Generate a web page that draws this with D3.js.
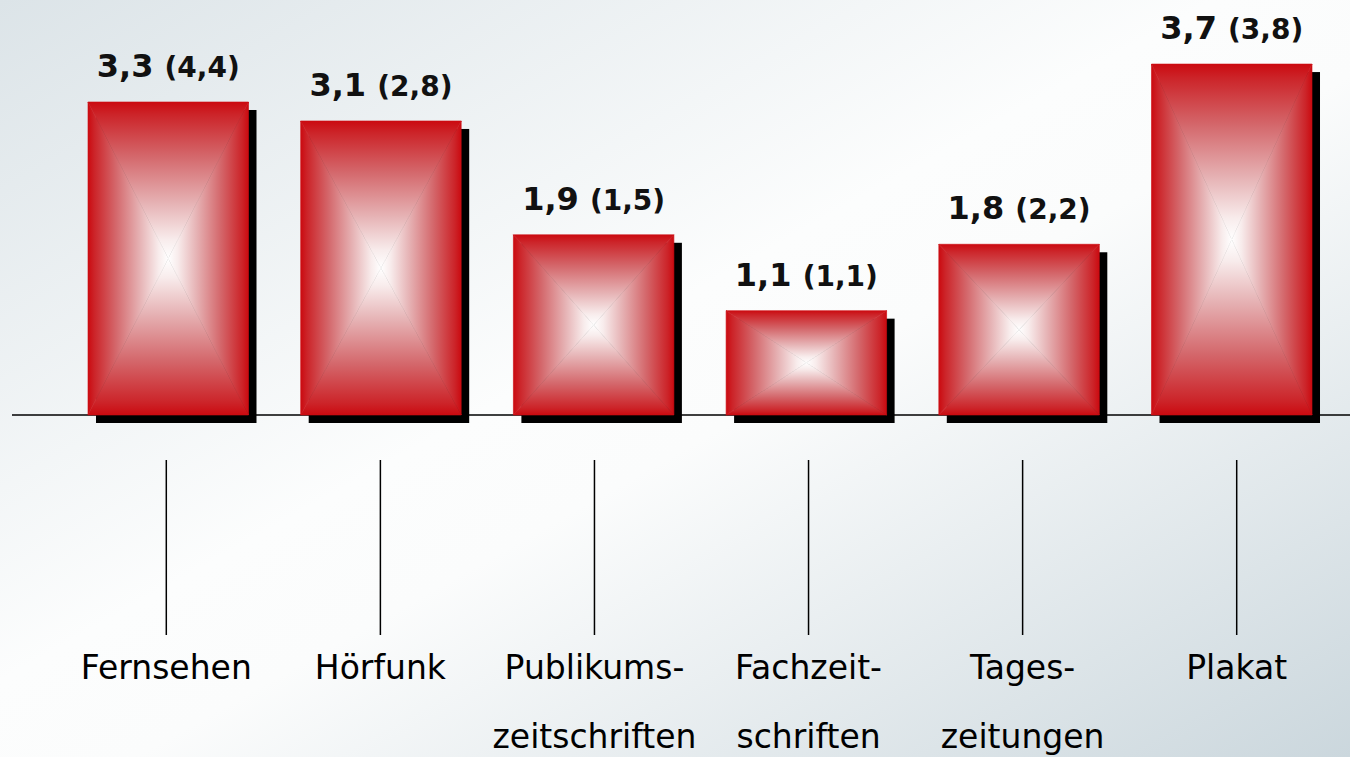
<!DOCTYPE html>
<html>
<head>
<meta charset="utf-8">
<script src="https://cdn.jsdelivr.net/npm/d3@7"></script>
<style>
  body { margin: 0; overflow: hidden; }
  svg { display: block; }
</style>
</head>
<body>
<div class="root"></div>
<script>
var width = 1350;
var height = 757;

// data
var categories = ["Fernsehen", "Hörfunk", "Publikumszeitschriften", "Fachzeitschriften", "Tageszeitungen", "Plakat"];
var labelLines = [["Fernsehen"], ["Hörfunk"], ["Publikums-", "zeitschriften"], ["Fachzeit-", "schriften"], ["Tages-", "zeitungen"], ["Plakat"]];
var values = [3.3, 3.1, 1.9, 1.1, 1.8, 3.7];
var prevValues = [4.4, 2.8, 1.5, 1.1, 2.2, 3.8];

var fmt = function (v) { return d3.format(".1f")(v).replace(".", ","); };

var svg = d3.select(".root").append("svg")
  .attr("width", width)
  .attr("height", height);

var defs = svg.append("defs");

var bg = defs.append("linearGradient")
  .attr("id", "bg")
  .attr("x1", 0).attr("y1", 0).attr("x2", 1).attr("y2", 1);
bg.append("stop").attr("offset", 0).attr("stop-color", "#dce4e8");
bg.append("stop").attr("offset", 0.45).attr("stop-color", "#fcfdfd");
bg.append("stop").attr("offset", 0.55).attr("stop-color", "#fbfcfc");
bg.append("stop").attr("offset", 1).attr("stop-color", "#cbd7dd");

// rectangular "from center" fill: one gradient per side, drawn as triangles
var sides = {
  top: [0, 0, 0, 1],
  bottom: [0, 1, 0, 0],
  left: [0, 0, 1, 0],
  right: [1, 0, 0, 0]
};
var stops = [
  [0, "#cb0a10"],
  [0.08, "#cc2429"],
  [0.35, "#d4686c"],
  [0.65, "#e6b3b5"],
  [0.88, "#f8ecec"],
  [1, "#ffffff"]
];
Object.keys(sides).forEach(function (k) {
  var s = sides[k];
  var g = defs.append("linearGradient")
    .attr("id", "g-" + k)
    .attr("x1", s[0]).attr("y1", s[1]).attr("x2", s[2]).attr("y2", s[3]);
  stops.forEach(function (st) {
    g.append("stop").attr("offset", st[0]).attr("stop-color", st[1]);
  });
});

svg.append("rect")
  .attr("width", width)
  .attr("height", height)
  .attr("fill", "url(#bg)");

var x = d3.scaleBand()
  .domain(categories)
  .range([35.8, 1364.2])
  .paddingInner(0.2454)
  .paddingOuter(0.2454);

var xTick = d3.scalePoint()
  .domain(categories)
  .range([166.3, 1236.7]);

var y = d3.scaleLinear()
  .domain([0, 4])
  .range([415, 415 - 4 * 94.85]);

var data = categories.map(function (c, i) {
  return { name: c, value: values[i], prev: prevValues[i], lines: labelLines[i] };
});

// baseline
svg.append("line")
  .attr("x1", 12).attr("x2", width)
  .attr("y1", y(0)).attr("y2", y(0))
  .attr("stroke", "#000")
  .attr("stroke-width", 1.6);

var bars = svg.append("g").attr("class", "bars")
  .selectAll("g")
  .data(data)
  .enter().append("g");

bars.append("rect")
  .attr("x", function (d) { return x(d.name) + 8; })
  .attr("y", function (d) { return y(d.value) + 8; })
  .attr("width", x.bandwidth())
  .attr("height", function (d) { return y(0) - y(d.value); })
  .attr("fill", "#000");

function tri(d, side) {
  var x0 = x(d.name), x1 = x0 + x.bandwidth();
  var y0 = y(d.value), y1 = y(0);
  var cx = (x0 + x1) / 2, cy = (y0 + y1) / 2;
  var p;
  if (side == "top") p = [[x0, y0], [x1, y0], [cx, cy]];
  if (side == "bottom") p = [[x0, y1], [x1, y1], [cx, cy]];
  if (side == "left") p = [[x0, y0], [x0, y1], [cx, cy]];
  if (side == "right") p = [[x1, y0], [x1, y1], [cx, cy]];
  return p.map(function (q) { return q.join(","); }).join(" ");
}

["top", "bottom", "left", "right"].forEach(function (side) {
  bars.append("polygon")
    .attr("points", function (d) { return tri(d, side); })
    .attr("fill", "url(#g-" + side + ")")
    .attr("stroke", "url(#g-" + side + ")")
    .attr("stroke-width", 0.6);
});

// value labels
var vl = bars.append("text")
  .attr("x", function (d) { return x(d.name) + x.bandwidth() / 2; })
  .attr("y", function (d) { return y(d.value) - 25; })
  .attr("text-anchor", "middle")
  .attr("font-family", "'DejaVu Sans', sans-serif")
  .attr("font-weight", "bold")
  .attr("fill", "#111");
vl.append("tspan")
  .attr("font-size", 32)
  .text(function (d) { return fmt(d.value) + " "; });
vl.append("tspan")
  .attr("font-size", 28)
  .text(function (d) { return "(" + fmt(d.prev) + ")"; });

// ticks and category labels
var cat = svg.append("g").attr("class", "cats")
  .selectAll("g")
  .data(data)
  .enter().append("g")
  .attr("transform", function (d) { return "translate(" + xTick(d.name) + ",0)"; });

cat.append("line")
  .attr("y1", 460).attr("y2", 635)
  .attr("stroke", "#000")
  .attr("stroke-width", 1.5);

cat.append("text")
  .attr("text-anchor", "middle")
  .attr("font-family", "'DejaVu Sans', sans-serif")
  .attr("font-size", 33)
  .attr("fill", "#000")
  .selectAll("tspan")
  .data(function (d) { return d.lines; })
  .enter().append("tspan")
  .attr("x", 0)
  .attr("y", function (d, i) { return 679 + i * 69; })
  .text(function (d) { return d; });
</script>
</body>
</html>
